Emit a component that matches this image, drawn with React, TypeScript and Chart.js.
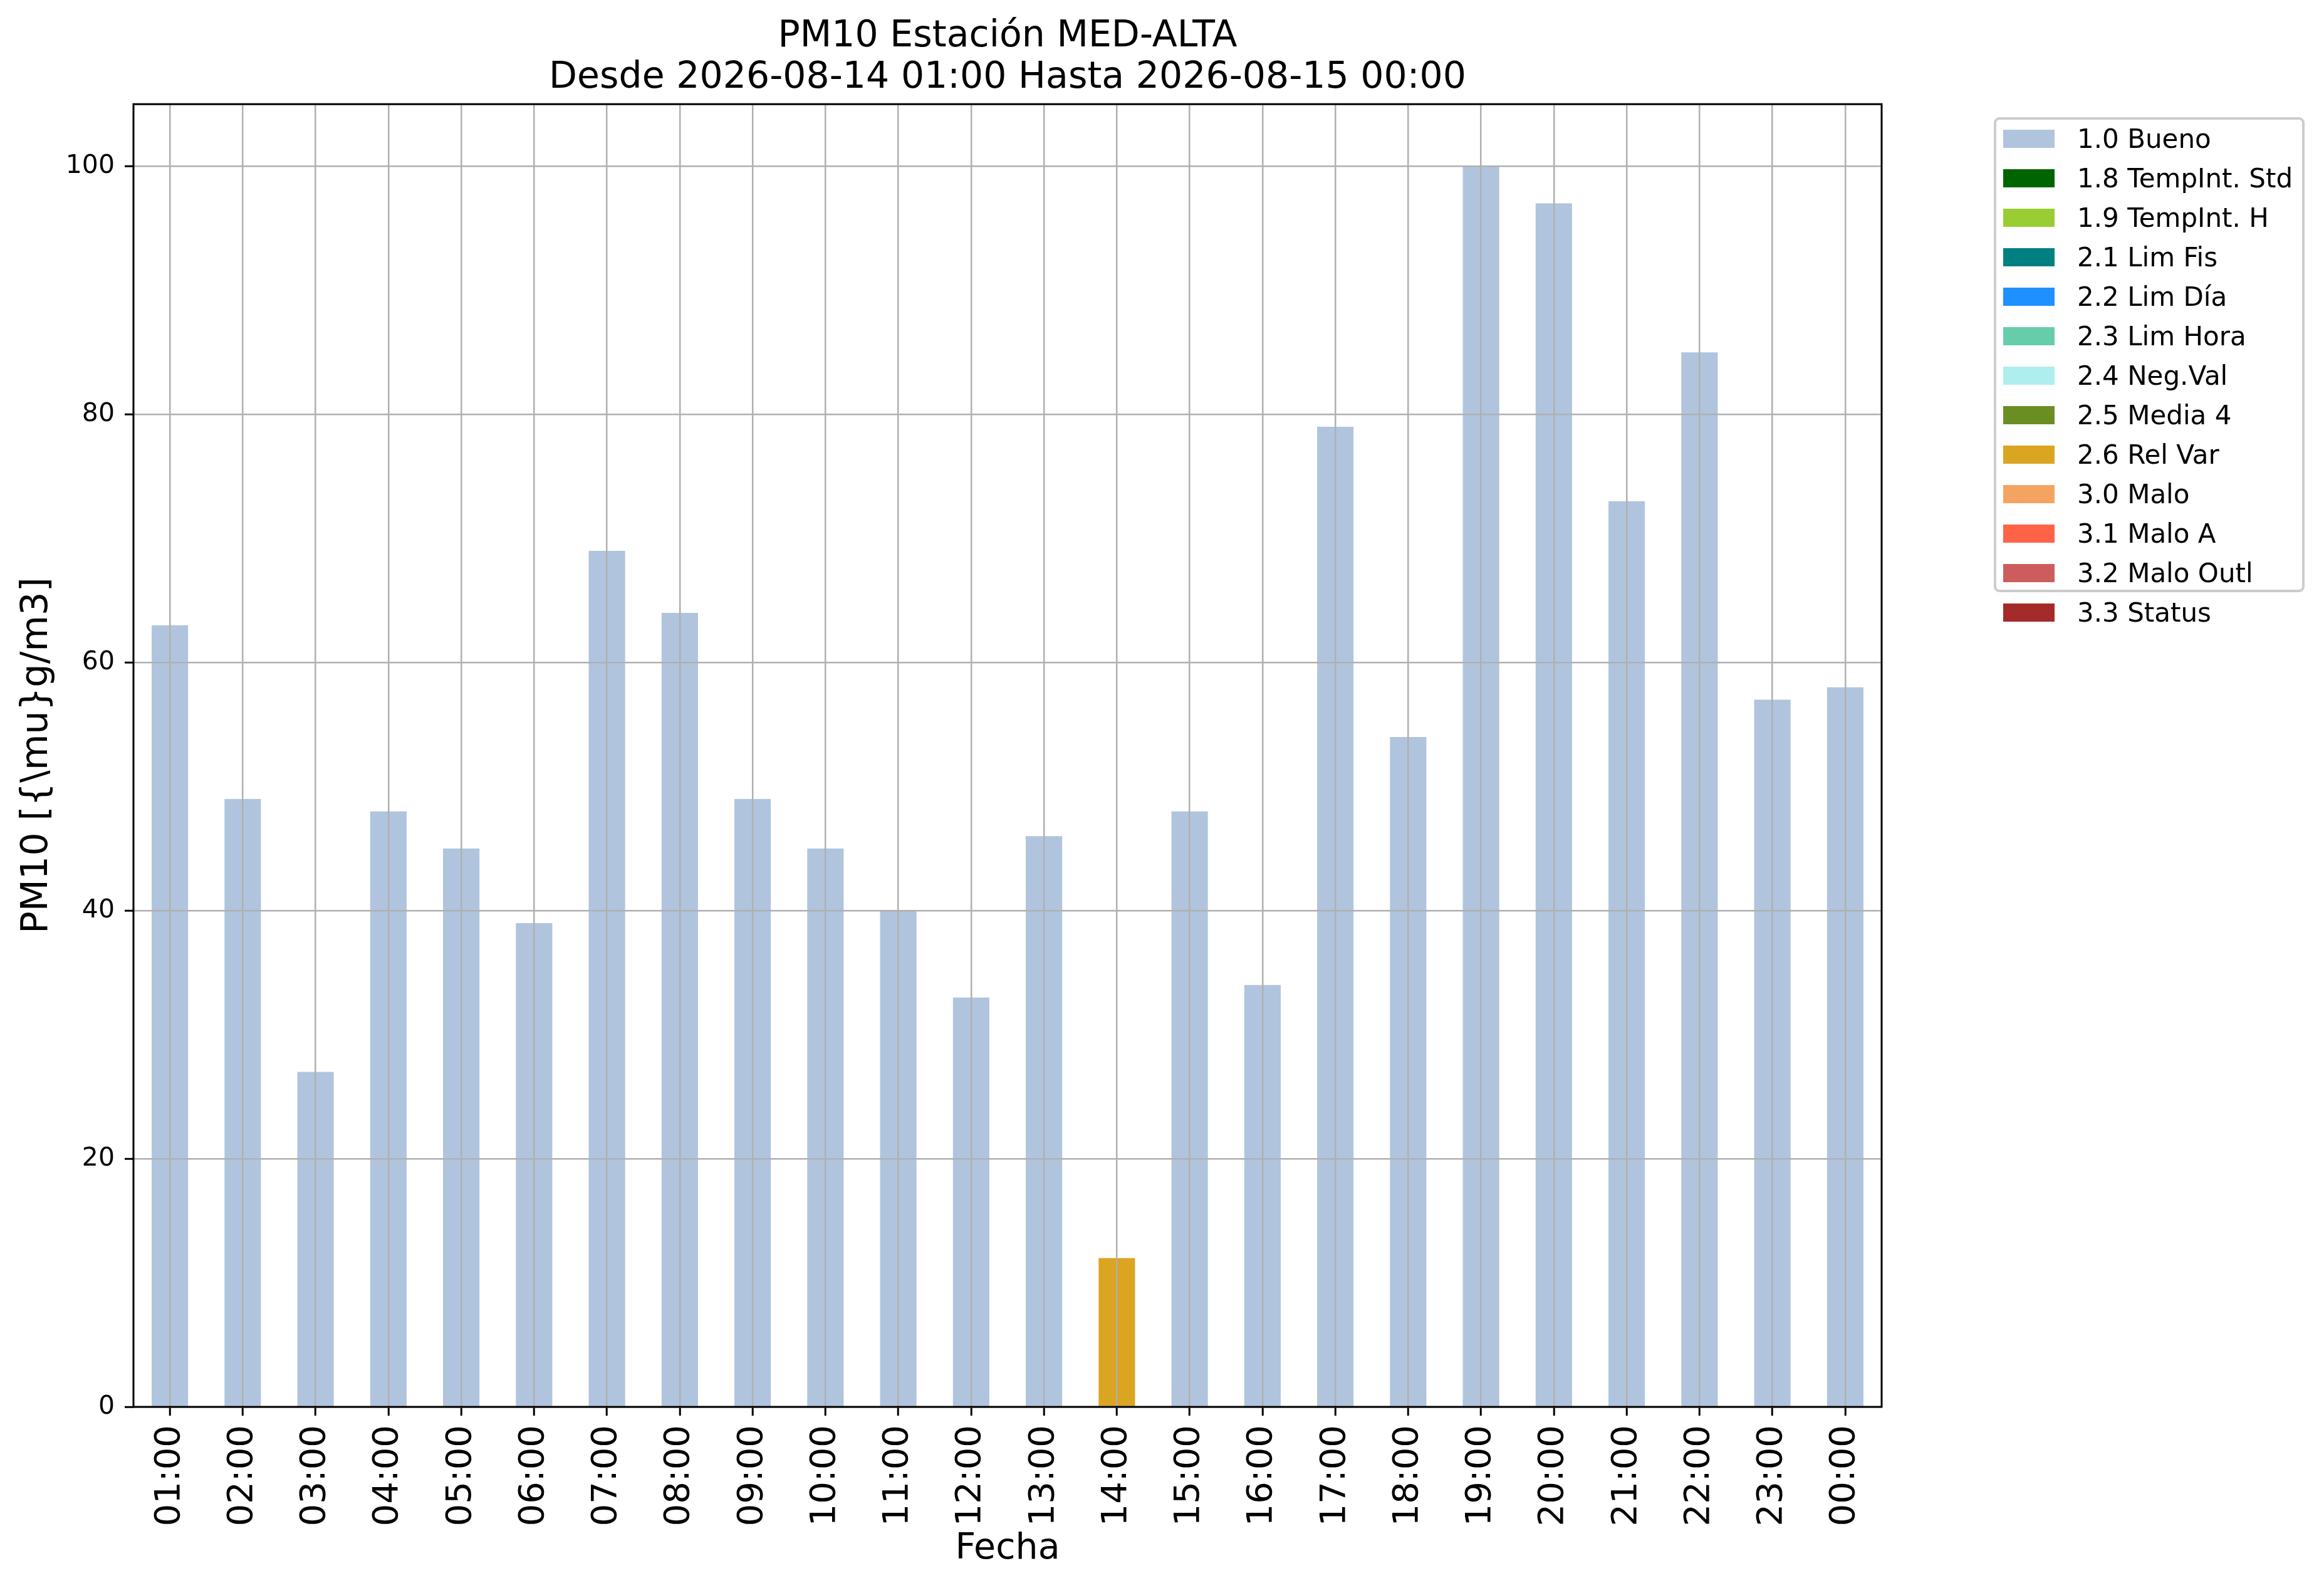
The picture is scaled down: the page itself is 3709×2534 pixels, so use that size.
import { useEffect, useRef } from "react";
import { Chart, registerables } from "chart.js";

Chart.register(...registerables);

const hours = [
  "01:00", "02:00", "03:00", "04:00", "05:00", "06:00", "07:00", "08:00",
  "09:00", "10:00", "11:00", "12:00", "13:00", "14:00", "15:00", "16:00",
  "17:00", "18:00", "19:00", "20:00", "21:00", "22:00", "23:00", "00:00",
];
const pm10Values = [
  63, 49, 27, 48, 45, 39, 69, 64, 49, 45, 40, 33,
  46, 12, 48, 34, 79, 54, 100, 97, 73, 85, 57, 58,
];
// validation flag of every hour
const hourFlags = [
  "1.0", "1.0", "1.0", "1.0", "1.0", "1.0", "1.0", "1.0", "1.0", "1.0", "1.0", "1.0",
  "1.0", "2.6", "1.0", "1.0", "1.0", "1.0", "1.0", "1.0", "1.0", "1.0", "1.0", "1.0",
];
const flagCodes = ["1.0", "1.8", "1.9", "2.1", "2.2", "2.3", "2.4", "2.5", "2.6", "3.0", "3.1", "3.2", "3.3"];
const flagNames = [
  "Bueno", "TempInt. Std", "TempInt. H", "Lim Fis", "Lim Día", "Lim Hora", "Neg.Val",
  "Media 4", "Rel Var", "Malo", "Malo A", "Malo Outl", "Status",
];
const flagColors = [
  "#b0c4de", "#006400", "#9acd32", "#008080", "#1e90ff", "#66cdaa", "#afeeee",
  "#6b8e23", "#daa520", "#f4a460", "#ff6347", "#cd5c5c", "#a52a2a",
];
const yTicks = [0, 20, 40, 60, 80, 100];

const FONT = "'DejaVu Sans', sans-serif";

// black frame round the plot area, like matplotlib spines
const framePlugin = {
  id: "frame",
  afterDraw(chart: Chart) {
    const { ctx, chartArea } = chart;
    ctx.save();
    ctx.strokeStyle = "#000";
    ctx.lineWidth = 3;
    ctx.strokeRect(chartArea.left, chartArea.top, chartArea.right - chartArea.left, chartArea.bottom - chartArea.top);
    ctx.restore();
  },
};

export default function App() {
  const canvasRef = useRef<HTMLCanvasElement>(null);
  const chartRef = useRef<Chart | null>(null);

  useEffect(() => {
    if (!canvasRef.current) return;
    const ctx = canvasRef.current.getContext("2d");
    if (!ctx) return;

    const datasets = flagCodes.map((code, k) => ({
      label: `${code} ${flagNames[k]}`,
      data: pm10Values.map((v, i) => (hourFlags[i] === code ? v : null)),
      backgroundColor: flagColors[k],
      borderWidth: 0,
      categoryPercentage: 1,
      barPercentage: 0.5,
    }));

    // grid above the bars, black tick marks outside
    const gridCommon = {
      color: "#b0b0b0",
      lineWidth: 2.5,
      z: 1,
      drawTicks: true,
      tickLength: 14,
      tickWidth: 3,
      tickColor: "#000",
    };

    chartRef.current = new Chart(ctx, {
      type: "bar",
      data: { labels: hours, datasets },
      plugins: [framePlugin],
      options: {
        animation: false,
        responsive: true,
        maintainAspectRatio: false,
        devicePixelRatio: 1,
        layout: { padding: { top: 0, left: 0, right: 706, bottom: 0 } },
        plugins: {
          legend: { display: false },
          tooltip: { enabled: false },
          title: {
            display: true,
            fullSize: false,
            text: ["PM10 Estación MED-ALTA", "Desde 2026-08-14 01:00 Hasta 2026-08-15 00:00"],
            color: "#000",
            font: { family: FONT, size: 58.5, weight: "normal", lineHeight: 1.13 },
            padding: { top: 26, bottom: 8 },
          },
        },
        scales: {
          x: {
            stacked: true,
            afterFit: (scale: any) => {
              scale.height = 289;
            },
            grid: { ...gridCommon, offset: false },
            border: { display: false },
            ticks: {
              autoSkip: false,
              minRotation: 90,
              maxRotation: 90,
              padding: 15,
              color: "#000",
              font: { family: FONT, size: 56 },
            },
            title: {
              display: true,
              text: "Fecha",
              color: "#000",
              font: { family: FONT, size: 57 },
              padding: { top: 0, bottom: 28 },
            },
          },
          y: {
            stacked: true,
            min: 0,
            max: 105,
            afterFit: (scale: any) => {
              scale.width = 213;
            },
            afterBuildTicks: (scale: any) => {
              scale.ticks = yTicks.map((value) => ({ value }));
            },
            grid: gridCommon,
            border: { display: false },
            ticks: {
              padding: 16,
              color: "#000",
              font: { family: FONT, size: 41 },
            },
            title: {
              display: true,
              text: "PM10 [{\\mu}g/m3]",
              color: "#000",
              font: { family: FONT, size: 59 },
              padding: { top: 24, bottom: 0 },
            },
          },
        },
      },
    });

    return () => {
      if (chartRef.current) {
        chartRef.current.destroy();
        chartRef.current = null;
      }
    };
  }, []);

  return (
    <div
      style={{
        position: "absolute",
        left: 0,
        top: 0,
        width: 3709,
        height: 2534,
        background: "#fff",
        fontFamily: FONT,
      }}
    >
      <canvas ref={canvasRef} />
      {/* Legend */}
      <div
        style={{
          position: "absolute",
          left: 3182,
          top: 187,
          width: 488,
          height: 750,
          border: "4px solid #cccccc",
          borderRadius: 9,
          background: "#fff",
          boxSizing: "content-box",
        }}
      >
        {flagCodes.map((code, k) => (
          <div
            key={code}
            style={{
              position: "absolute",
              left: 11,
              top: -1 + k * 63,
              height: 63,
              display: "flex",
              alignItems: "center",
              whiteSpace: "nowrap",
            }}
          >
            <span style={{ display: "inline-block", width: 82, height: 29, background: flagColors[k] }} />
            <span style={{ marginLeft: 36, fontSize: 42, color: "#000", lineHeight: "42px" }}>
              {`${code} ${flagNames[k]}`}
            </span>
          </div>
        ))}
      </div>
    </div>
  );
}
